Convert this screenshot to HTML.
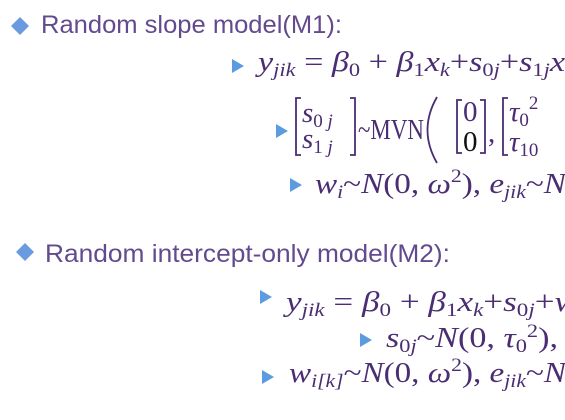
<!DOCTYPE html>
<html><head><meta charset="utf-8"><style>
html,body{margin:0;padding:0}
body{width:565px;height:420px;background:#fff;overflow:hidden}
svg{display:block}
.h{font-family:"Liberation Sans",sans-serif;font-size:25px;fill:#634a8f}
.m{font-family:"Liberation Serif",serif;font-size:29px;fill:#4a2d72;font-style:italic}
.u{font-style:normal}
.s{font-size:19px}
</style></head><body>
<svg width="565" height="420" xmlns="http://www.w3.org/2000/svg">
<g fill="#6a9be0">
<path d="M20 17 L29 26 L20 35 L11 26Z"/>
<path d="M25 243 L34 252 L25 261 L16 252Z"/>
</g>
<g fill="#5b9be0">
<path d="M232 59 L244 66 L232 73Z"/>
<path d="M276 124 L288 131 L276 138Z"/>
<path d="M290 178 L302 185 L290 192Z"/>
<path d="M260 290 L272 297 L260 304Z"/>
<path d="M360 333 L372 340 L360 347Z"/>
<path d="M262 370 L274 377 L262 384Z"/>
</g>
<text class="h" x="41" y="33" textLength="301" lengthAdjust="spacingAndGlyphs">Random slope model(M1):</text>
<text class="h" x="45" y="262" textLength="405" lengthAdjust="spacingAndGlyphs">Random intercept-only model(M2):</text>

<text class="m" x="258" y="71" textLength="307" lengthAdjust="spacingAndGlyphs">y<tspan class="s" dy="5">jik</tspan><tspan class="u" dy="-5"> = </tspan>β<tspan class="s u" dy="5">0</tspan><tspan class="u" dy="-5"> + </tspan>β<tspan class="s u" dy="5">1</tspan><tspan dy="-5">x</tspan><tspan class="s" dy="5">k</tspan><tspan class="u" dy="-5">+</tspan>s<tspan class="s" dy="5"><tspan class="u">0</tspan>j</tspan><tspan class="u" dy="-5">+</tspan>s<tspan class="s" dy="5"><tspan class="u">1</tspan>j</tspan><tspan dy="-5">x</tspan></text>

<g fill="none" stroke="#4a2d72" stroke-width="1.8">
<path d="M301 98 H296 V155 H301"/><path d="M350 98 H355 V155 H350"/>
<path d="M437 97 Q418 130 437 163"/>
<path d="M462 100 H457 V153 H462"/><path d="M480 100 H485 V153 H480"/>
<path d="M508 98 H503 V155 H508"/>
</g>
<text class="m" x="302" y="122">s<tspan class="s" dy="5"><tspan class="u">0</tspan> j</tspan></text>
<text class="m" x="302" y="148">s<tspan class="s" dy="5"><tspan class="u">1</tspan> j</tspan></text>
<text class="m u" x="358" y="139" textLength="66" lengthAdjust="spacingAndGlyphs">~MVN</text>
<text class="m u" x="463" y="121">0</text>
<text class="m u" x="463" y="151" style="fill:#111">0</text>
<text class="m u" x="488" y="142">,</text>
<text class="m" x="509" y="121">τ<tspan class="s u" dy="5">0</tspan><tspan class="s u" dy="-17">2</tspan></text>
<text class="m" x="509" y="151">τ<tspan class="s u" dy="5">10</tspan></text>

<text class="m" x="315" y="193" textLength="262" lengthAdjust="spacingAndGlyphs">w<tspan class="s" dy="5">i</tspan><tspan class="u" dy="-5">~</tspan>N<tspan class="u">(0, </tspan>ω<tspan class="s u" dy="-11">2</tspan><tspan class="u" dy="11">), </tspan>e<tspan class="s" dy="5">jik</tspan><tspan class="u" dy="-5">~</tspan>N<tspan class="u">(</tspan></text>

<text class="m" x="286" y="311" textLength="292" lengthAdjust="spacingAndGlyphs">y<tspan class="s" dy="5">jik</tspan><tspan class="u" dy="-5"> = </tspan>β<tspan class="s u" dy="5">0</tspan><tspan class="u" dy="-5"> + </tspan>β<tspan class="s u" dy="5">1</tspan><tspan dy="-5">x</tspan><tspan class="s" dy="5">k</tspan><tspan class="u" dy="-5">+</tspan>s<tspan class="s" dy="5"><tspan class="u">0</tspan>j</tspan><tspan class="u" dy="-5">+</tspan>w</text>

<text class="m" x="386" y="347" textLength="172" lengthAdjust="spacingAndGlyphs">s<tspan class="s" dy="5"><tspan class="u">0</tspan>j</tspan><tspan class="u" dy="-5">~</tspan>N<tspan class="u">(0, </tspan>τ<tspan class="s u" dy="5">0</tspan><tspan class="s u" dy="-15">2</tspan><tspan class="u" dy="10">),</tspan></text>

<text class="m" x="289" y="382" textLength="288" lengthAdjust="spacingAndGlyphs">w<tspan class="s" dy="5">i[k]</tspan><tspan class="u" dy="-5">~</tspan>N<tspan class="u">(0, </tspan>ω<tspan class="s u" dy="-11">2</tspan><tspan class="u" dy="11">), </tspan>e<tspan class="s" dy="5">jik</tspan><tspan class="u" dy="-5">~</tspan>N<tspan class="u">(</tspan></text>
</svg>
</body></html>
